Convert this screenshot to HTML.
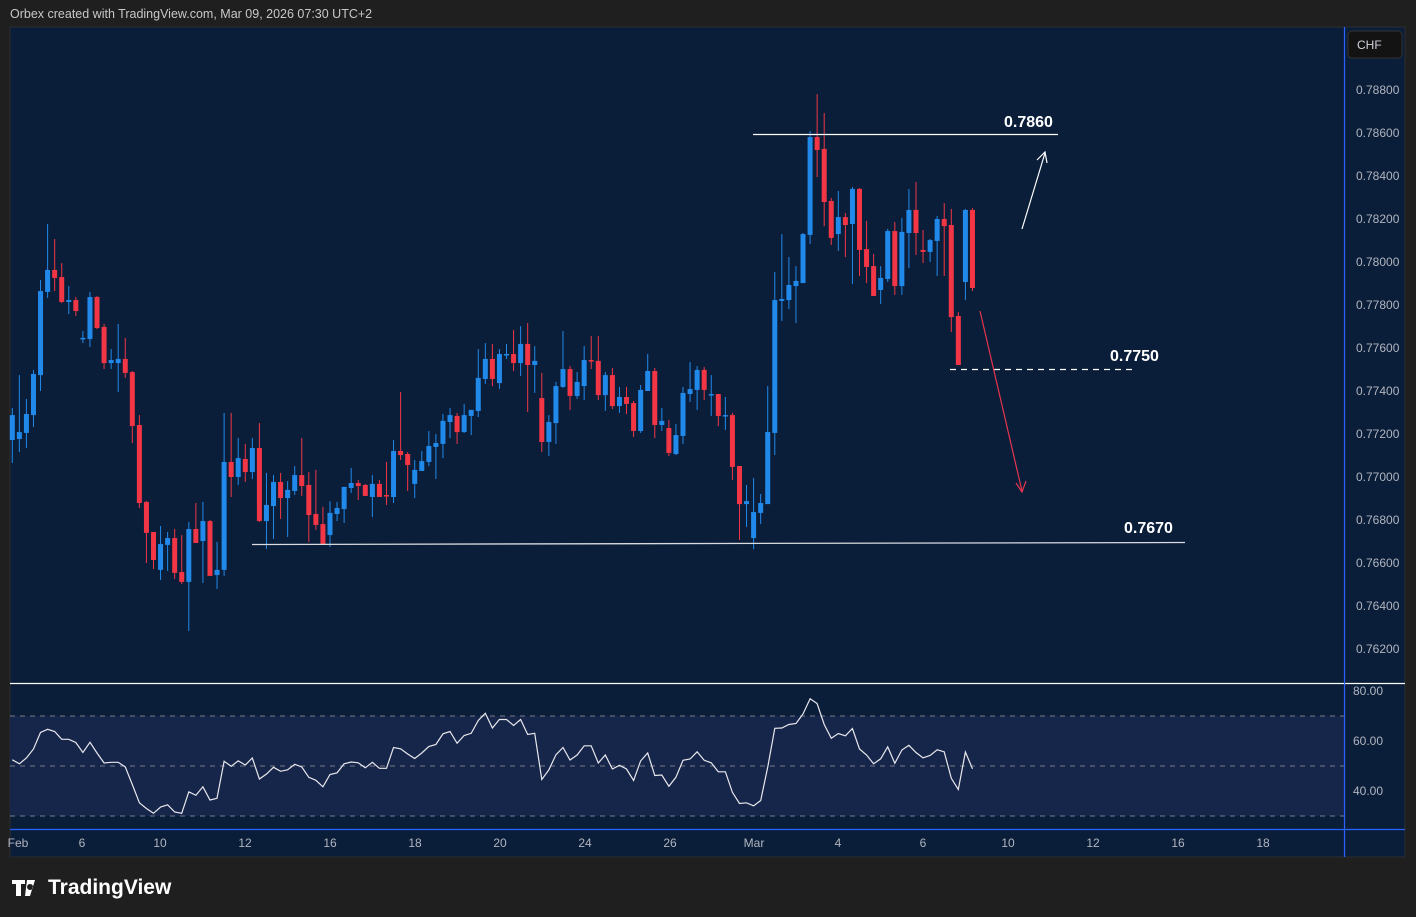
<!DOCTYPE html>
<html><head><meta charset="utf-8">
<style>
html,body{margin:0;padding:0;background:#1f1f1f;width:1416px;height:917px;overflow:hidden;font-family:"Liberation Sans",sans-serif}
#hdr{position:absolute;left:10px;top:7px;color:#c8c8c8;font-size:12.5px}
svg{position:absolute;left:0;top:0}
</style></head><body>
<div id="hdr">Orbex created with TradingView.com, Mar 09, 2026 07:30 UTC+2</div>
<svg id="c" width="1416" height="917" xmlns="http://www.w3.org/2000/svg">
<rect x="10" y="27" width="1395" height="830" fill="#0a1e3a" stroke="#2c2c2c"/>
<rect x="10" y="716" width="1334" height="100" fill="#16254a"/>
<g id="rsiLines" stroke="#787b86" stroke-dasharray="5,5" stroke-width="1">
<line x1="10" x2="1344" y1="716" y2="716"/>
<line x1="10" x2="1344" y1="766" y2="766"/>
<line x1="10" x2="1344" y1="816" y2="816"/>
</g>
<line x1="10" x2="1405" y1="683.5" y2="683.5" stroke="#ffffff" stroke-width="1.2"/>
<line x1="1344.5" x2="1344.5" y1="27" y2="857" stroke="#2962ff" stroke-width="1.2"/>
<line x1="10" x2="1405" y1="829.5" y2="829.5" stroke="#2962ff" stroke-width="1.2"/>
<g id="candles"></g>
<g id="rsi"></g>
<g id="axis" font-size="12" fill="#b2b5be"></g>
<rect x="1348" y="31" width="54" height="27" rx="4" fill="#131313" stroke="#333"/>
<text x="1357" y="49" font-size="12" fill="#d1d4dc">CHF</text>
<line x1="753" x2="1058" y1="134.5" y2="134.5" stroke="#fff" stroke-width="1.3"/>
<text x="1004" y="127" font-size="16" font-weight="bold" fill="#fff">0.7860</text>
<line x1="950" x2="1133" y1="369.5" y2="369.5" stroke="#fff" stroke-width="1.3" stroke-dasharray="6,5"/>
<text x="1110" y="361" font-size="16" font-weight="bold" fill="#fff">0.7750</text>
<line x1="252" x2="1185" y1="544.5" y2="542.5" stroke="#d9dbe0" stroke-width="1.3"/>
<text x="1124" y="533" font-size="16" font-weight="bold" fill="#fff">0.7670</text>
<g stroke="#fff" stroke-width="1.2" fill="none">
<line x1="1022" y1="229" x2="1045" y2="153"/><polyline points="1037,160 1045,152 1047,163"/></g>
<g stroke="#e5354c" stroke-width="1.2" fill="none">
<line x1="980" y1="311" x2="1022" y2="491"/><polyline points="1016,483 1022,492 1026,481"/></g>
<g>
<path d="M12 880h13v4h-4v12h-5v-12h-4z M27 880h8l-5 16h-5z M30 884a3 3 0 1 0 0.1 0" fill="#fff"/>
<text x="48" y="894" font-size="21" font-weight="bold" fill="#fff">TradingView</text></g>
</svg>
<script>
// prices ×1e5
const openP=[77172,77177,77205,77288,77474,77861,77963,77930,77814,77823,77642,77642,77837,77698,77530,77530,77549,77488,77242,76884,76744,76568,76684,76716,76558,76512,76758,76702,76795,76544,76568,77070,77000,77084,77023,77135,76795,76865,76977,76902,76935,77009,76963,76828,76781,76730,76828,76851,76949,76972,76963,76907,76968,76916,76907,77121,77107,76968,77028,77070,77140,77154,77256,77284,77209,77284,77307,77456,77549,77437,77567,77572,77530,77619,77521,77367,77163,77251,77419,77502,77377,77423,77544,77540,77381,77474,77330,77372,77344,77214,77400,77493,77242,77228,77107,77191,77386,77405,77498,77386,77386,77288,77288,77051,76874,76716,76833,76874,77205,77819,77823,77888,77902,78126,78581,78526,78284,78130,78209,78177,78340,78060,77981,77870,77921,78144,77888,78135,78242,78056,78047,78098,78200,78172,77749,77907,78242];
const closeP=[77288,77209,77293,77479,77865,77963,77926,77814,77823,77772,77647,77837,77693,77530,77544,77549,77484,77237,76879,76740,76614,76688,76716,76554,76512,76758,76693,76795,76540,76568,77070,77000,77088,77023,77135,76795,76870,76977,76902,76940,77009,76958,76823,76777,76688,76833,76856,76954,76972,76958,76912,76968,76907,76912,77121,77102,77056,77033,77074,77144,77158,77261,77288,77209,77288,77312,77461,77549,77456,77572,77572,77530,77619,77521,77540,77163,77256,77423,77502,77377,77442,77544,77540,77381,77474,77330,77372,77340,77214,77405,77493,77242,77261,77112,77195,77391,77409,77498,77405,77386,77284,77288,77047,76874,76888,76837,76879,77209,77823,77828,77893,77912,78130,78581,78521,78279,78112,78209,78172,78340,78056,77977,77842,77926,78144,77888,78140,78242,78135,78047,78102,78200,78167,77744,77521,78242,77879];
const highP=[77321,77474,77363,77498,77916,78177,78107,77995,77888,77837,77679,77861,77842,77712,77595,77712,77647,77493,77288,76888,76744,76772,76744,76758,76730,76791,76879,76884,76800,76698,77298,77298,77181,77154,77181,77251,77019,77009,77019,76981,77051,77181,77023,77033,76861,76888,76884,76954,77042,76986,76968,77009,76986,77070,77172,77395,77116,77079,77121,77214,77200,77293,77321,77298,77340,77312,77595,77623,77619,77595,77619,77684,77702,77716,77609,77484,77288,77442,77679,77516,77488,77609,77656,77656,77488,77507,77419,77419,77354,77428,77572,77507,77321,77265,77247,77419,77535,77516,77512,77474,77386,77372,77298,77051,76963,76995,76921,77423,77954,78130,78023,77981,78135,78609,78781,78693,78298,78330,78228,78349,78344,78191,78037,77981,78154,78186,78205,78340,78372,78149,78107,78214,78274,78247,77767,78247,78251];
const lowP=[77065,77116,77135,77233,77400,77833,77865,77809,77758,77749,77623,77605,77688,77502,77502,77395,77461,77158,76856,76600,76572,76521,76563,76526,76502,76284,76693,76507,76540,76479,76540,76907,76963,76977,76991,76791,76665,76712,76805,76721,76916,76912,76698,76754,76688,76674,76795,76786,76926,76893,76912,76814,76907,76870,76879,77079,76935,76902,77028,77051,76991,77088,77181,77154,77205,77195,77279,77433,77423,77409,77549,77493,77470,77302,77391,77116,77098,77154,77414,77312,77363,77358,77502,77358,77307,77316,77298,77293,77186,77205,77400,77181,77214,77098,77102,77154,77349,77312,77358,77284,77237,77219,76986,76707,76768,76665,76781,76874,77102,77726,77781,77716,77902,78084,78395,78167,78079,78051,78023,77898,77935,77902,77842,77805,77907,77847,77847,77972,78033,77995,78000,77935,77935,77674,77521,77823,77865];
const rsiVals=[52.5,50.9,53.2,56.8,63.4,64.7,63.8,60.7,60.7,59.4,55.4,59.5,55.2,51.2,51.5,51.5,49.6,42.6,35.3,33.0,31.1,33.6,34.5,31.6,31.1,39.7,38.3,41.7,36.4,37.1,51.9,49.9,52.1,50.4,53.2,44.8,46.8,49.5,47.9,48.5,50.7,49.6,45.5,44.3,41.7,46.6,47.3,50.9,51.6,51.3,49.3,51.5,49.1,49.1,57.4,56.9,54.8,53.0,55.2,57.8,58.6,62.9,63.8,59.1,62.2,63.1,68.2,71.1,65.2,68.6,68.6,66.2,68.6,62.6,63.1,44.6,48.5,54.5,57.4,52.4,54.4,58.1,58.1,51.2,54.4,48.8,50.3,48.8,44.2,52.0,55.2,46.2,46.4,41.9,45.5,52.3,52.8,55.7,52.3,51.3,47.7,47.7,39.5,35.0,35.3,34.1,36.2,49.5,65.1,65.2,66.6,67.0,70.8,76.9,75.0,66.6,61.1,63.0,62.1,65.0,56.8,54.4,50.9,52.9,57.7,51.1,56.4,58.3,55.4,53.3,54.2,56.5,55.7,45.1,40.6,55.6,48.9];
const priceTicks=[0.788,0.786,0.784,0.782,0.780,0.778,0.776,0.774,0.772,0.770,0.768,0.766,0.764,0.762];
const rsiTicks=[80,60,40];
const timeLabels=["Feb","6","10","12","16","18","20","24","26","Mar","4","6","10","12","16","18"];
const timeLabelX=[18,82,160,245,330,415,500,585,670,754,838,923,1008,1093,1178,1263];

const NS="http://www.w3.org/2000/svg";
const xAt=i=>12.3+i*7.06;
const yP=p=>90+(0.788-p/1e5)*21500;
const yPt=p=>90+(0.788-p)*21500;
const yR=r=>766-(r-50)*2.5;
function mk(tag,attrs,parent){const e=document.createElementNS(NS,tag);for(const k in attrs)e.setAttribute(k,attrs[k]);parent.appendChild(e);return e;}
const cg=document.getElementById('candles');
for(let i=0;i<openP.length;i++){
  const up=closeP[i]>=openP[i];const col=up?'#2189ea':'#f23645';
  const g=mk('g',{},cg);
  
  
  const x=xAt(i);
  mk('line',{x1:x,x2:x,y1:yP(highP[i]),y2:yP(lowP[i]),stroke:col,'stroke-width':1},g);
  const t=Math.min(yP(openP[i]),yP(closeP[i]));const h=Math.max(1.5,Math.abs(yP(openP[i])-yP(closeP[i])));
  mk('rect',{x:x-2.5,y:t,width:5,height:h,fill:col},g);
}
const rg=document.getElementById('rsi');
const pts=rsiVals.map((v,i)=>xAt(i).toFixed(1)+','+yR(v).toFixed(1)).join(' ');
const pl=mk('polyline',{points:pts,fill:'none',stroke:'#e8e8ec','stroke-width':1.2},rg);


const ag=document.getElementById('axis');
priceTicks.forEach(p=>{const t=mk('text',{x:1356,y:yPt(p)+4},ag);t.textContent=p.toFixed(5);
 
 });
rsiTicks.forEach(r=>{const t=mk('text',{x:1353,y:yR(r)+4},ag);t.textContent=r.toFixed(2);
 
 });
timeLabels.forEach((s,i)=>{const t=mk('text',{x:timeLabelX[i],y:847,'text-anchor':'middle'},ag);t.textContent=s;
 
 });
</script>
</body></html>
